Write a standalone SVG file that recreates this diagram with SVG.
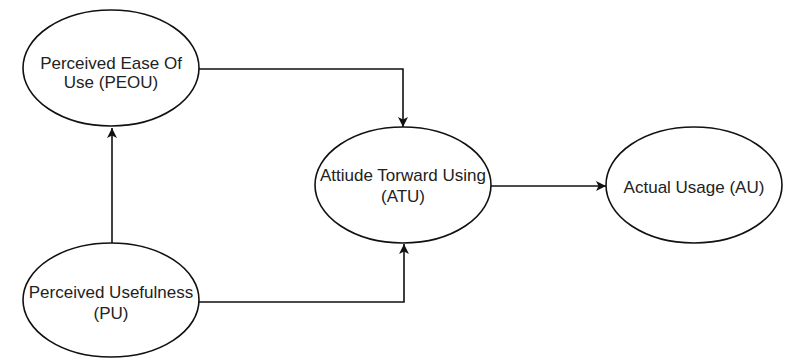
<svg xmlns="http://www.w3.org/2000/svg" width="786" height="358" viewBox="0 0 786 358">
<style>
.node ellipse{fill:#fff;stroke:#111;stroke-width:1.6}
.node text{font-family:"Liberation Sans",Arial,sans-serif;font-size:17px;fill:#222;text-anchor:middle}
.edge{fill:none;stroke:#111;stroke-width:1.6}
</style>
<defs>
<marker id="arr" viewBox="0 0 10 10" refX="10" refY="5" markerWidth="10" markerHeight="10" markerUnits="userSpaceOnUse" orient="auto">
<path d="M0,0 L10,5 L0,10 L2.5,5 Z" fill="#111"/>
</marker>
</defs>
<rect width="786" height="358" fill="#fff"/>
<g id="connectors">
<path class="edge" d="M112,243 L112,128" marker-end="url(#arr)"/>
<path class="edge" d="M199,69 L403,69 L403,127" marker-end="url(#arr)"/>
<path class="edge" d="M199,302 L404,302 L404,244" marker-end="url(#arr)"/>
<path class="edge" d="M491,186 L606,186" marker-end="url(#arr)"/>
</g>
<g id="peou" class="node">
<ellipse cx="111" cy="68" rx="88" ry="58"/>
<text x="111" y="69">Perceived Ease Of</text>
<text x="111" y="88">Use (PEOU)</text>
</g>
<g id="atu" class="node">
<ellipse cx="403" cy="185" rx="88" ry="58"/>
<text x="403" y="181">Attiude Torward Using</text>
<text x="403" y="202">(ATU)</text>
</g>
<g id="au" class="node">
<ellipse cx="694" cy="185" rx="88" ry="58"/>
<text x="694" y="193">Actual Usage (AU)</text>
</g>
<g id="pu" class="node">
<ellipse cx="111" cy="300" rx="88" ry="57"/>
<text x="111" y="298">Perceived Usefulness</text>
<text x="111" y="319">(PU)</text>
</g>
</svg>
